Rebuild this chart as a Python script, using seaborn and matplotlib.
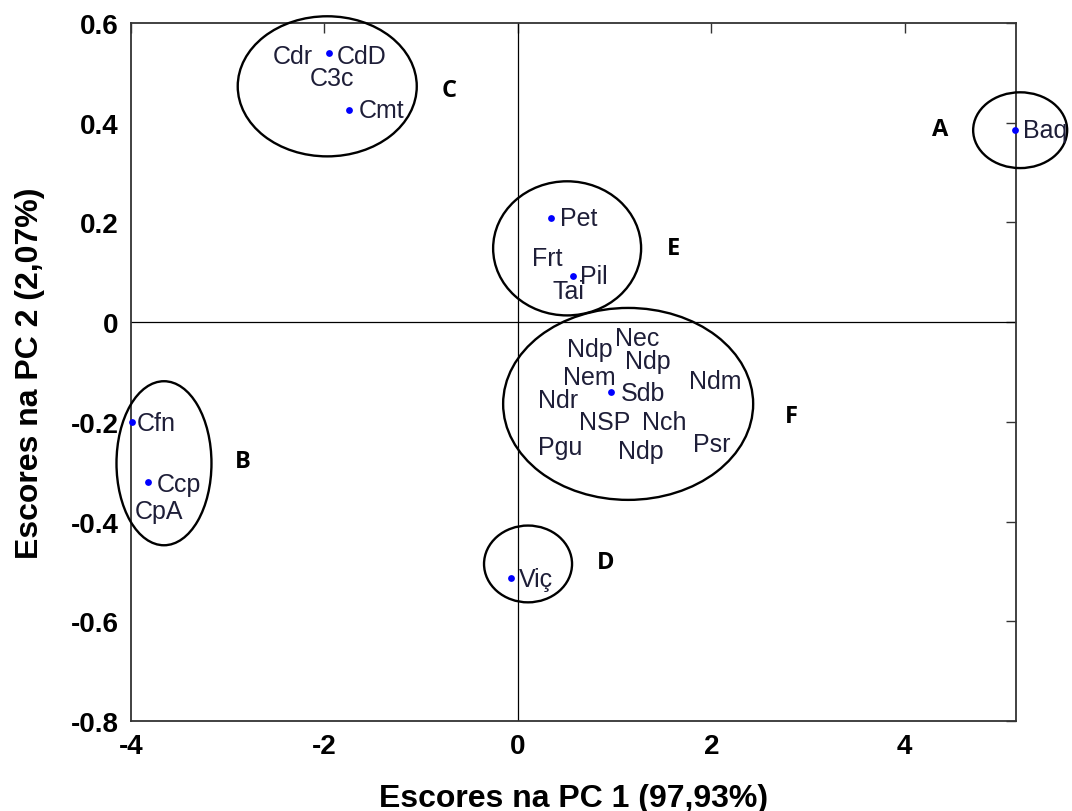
import numpy as np
import pandas as pd
import matplotlib
matplotlib.use("Agg")
import matplotlib.pyplot as plt
from matplotlib.patches import Ellipse
import seaborn as sns

# ---- data ----
dot_x = [-1.952, -1.746, 5.14, 0.343, 0.571, 0.964, -3.99, -3.824, -0.07]
dot_y = [0.540, 0.425, 0.385, 0.209, 0.092, -0.140, -0.201, -0.321, -0.513]

label_names = ["Cdr", "CdD", "C3c", "Cmt", "Baq", "Pet", "Frt", "Pil", "Tai",
               "Nec", "Ndp", "Ndp", "Nem", "Ndm", "Sdb", "Ndr", "NSP", "Nch",
               "Pgu", "Ndp", "Psr", "Cfn", "Ccp", "CpA", "Viç"]
label_x = [-2.531, -1.869, -2.149, -1.642, 5.224, 0.436, 0.147, 0.643, 0.354,
           1.000, 0.509, 1.108, 0.467, 1.770, 1.063, 0.209, 0.633, 1.284,
           0.209, 1.036, 1.812, -3.938, -3.731, -3.958, 0.012]
label_y = [0.533, 0.533, 0.489, 0.425, 0.385, 0.209, 0.128, 0.092, 0.062,
           -0.032, -0.054, -0.078, -0.110, -0.118, -0.142, -0.156, -0.201, -0.201,
           -0.251, -0.259, -0.245, -0.203, -0.325, -0.379, -0.515]

group_names = ["A", "B", "C", "D", "E", "F"]
group_x = [4.365, -2.842, -0.712, 0.912, 1.605, 2.825]
group_y = [0.387, -0.279, 0.465, -0.481, 0.149, -0.188]

ell_cx = [5.193, -3.659, -1.971, 0.105, 0.509, 1.140]
ell_cy = [0.385, -0.283, 0.473, -0.485, 0.148, -0.164]
ell_w = [0.972, 0.982, 1.851, 0.910, 1.530, 2.585]
ell_h = [0.152, 0.329, 0.281, 0.154, 0.269, 0.385]

x_ticks = [-4, -2, 0, 2, 4]
x_ticklabels = ["-4", "-2", "0", "2", "4"]
y_ticks = [-0.8, -0.6, -0.4, -0.2, 0, 0.2, 0.4, 0.6]
y_ticklabels = ["-0.8", "-0.6", "-0.4", "-0.2", "0", "0.2", "0.4", "0.6"]

x_label = "Escores na PC 1 (97,93%)"
y_label = "Escores na PC 2 (2,07%)"

# ---- style ----
sns.set_style("white")
plt.rcParams["font.family"] = ["Liberation Sans", "DejaVu Sans"]
plt.rcParams["text.color"] = "black"
plt.rcParams["axes.labelcolor"] = "black"
plt.rcParams["xtick.color"] = "black"
plt.rcParams["ytick.color"] = "black"

fig = plt.figure(figsize=(10.72, 8.12), dpi=100)
ax = fig.add_axes([131 / 1072, 1 - 722 / 812, (1016 - 131) / 1072, (722 - 24) / 812])

ax.axvline(0, color="black", lw=0.9, zorder=1)
ax.axhline(0, color="black", lw=0.9, zorder=1)

df = pd.DataFrame({"x": dot_x, "y": dot_y})
sns.scatterplot(data=df, x="x", y="y", ax=ax, color="#0000ff", s=24,
                linewidth=0, clip_on=False, zorder=4)

for name, lx, ly in zip(label_names, label_x, label_y):
    ax.text(lx, ly, name, ha="left", va="center", fontsize=18,
            color="#1e1e38", zorder=5, clip_on=False)

for name, gx, gy in zip(group_names, group_x, group_y):
    ax.text(gx, gy, name, ha="center", va="center", fontsize=17,
            fontweight="bold", family=["Open Sans", "DejaVu Sans"],
            color="black", zorder=5)

for cx, cy, w, h in zip(ell_cx, ell_cy, ell_w, ell_h):
    ax.add_patch(Ellipse((cx, cy), w, h, fill=False, edgecolor="black",
                         lw=1.7, clip_on=False, zorder=3))

ax.set_xlim(-4, 5.15)
ax.set_ylim(-0.8, 0.6)
ax.set_xticks(x_ticks)
ax.set_xticklabels(x_ticklabels)
ax.set_yticks(y_ticks)
ax.set_yticklabels(y_ticklabels)

ax.tick_params(axis="both", which="both", direction="in", length=7, width=1,
               color="#333333", labelcolor="black", top=True, right=True,
               labelsize=20, pad=9)
for lab in ax.get_xticklabels() + ax.get_yticklabels():
    lab.set_fontweight("bold")

for sp in ax.spines.values():
    sp.set_visible(True)
    sp.set_color("#333333")
    sp.set_linewidth(1.3)

ax.set_xlabel(x_label, fontsize=23, fontweight="bold", labelpad=17)
ax.set_ylabel(y_label, fontsize=23, fontweight="bold", labelpad=18)

fig.savefig("out.png", dpi=100)
